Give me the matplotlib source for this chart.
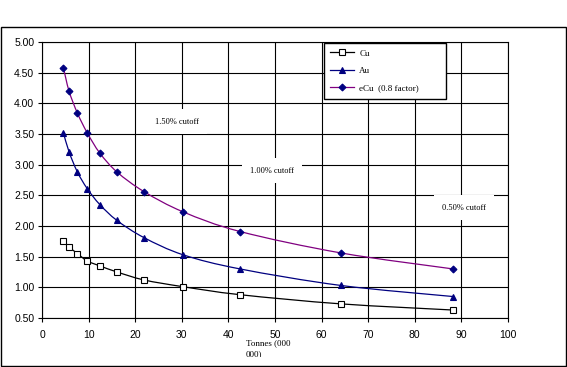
import numpy as np
import matplotlib
matplotlib.use('Agg')
import matplotlib.pyplot as plt
from matplotlib.path import Path
from matplotlib.patches import PathPatch, Rectangle
from matplotlib.lines import Line2D
from matplotlib.transforms import Bbox, TransformedBbox

# tonnes (000 000) and grades
tonnes = [4.6, 5.8, 7.6, 9.7, 12.4, 16.1, 21.9, 30.3, 42.5, 64.2, 88.2]
cu = [1.76, 1.66, 1.55, 1.43, 1.35, 1.25, 1.12, 1.01, 0.88, 0.73, 0.63]
au = [3.52, 3.21, 2.88, 2.61, 2.35, 2.09, 1.81, 1.53, 1.30, 1.03, 0.85]
ecu = [4.58, 4.20, 3.84, 3.52, 3.19, 2.88, 2.56, 2.23, 1.91, 1.56, 1.30]

cutoff_labels = ['1.50% cutoff', '1.00% cutoff', '0.50% cutoff']
cutoff_pos = [(29.0, 3.70), (49.4, 2.90), (90.6, 2.30)]

xticks = list(range(0, 101, 10))
yticks = [0.5, 1.0, 1.5, 2.0, 2.5, 3.0, 3.5, 4.0, 4.5, 5.0]

W, H = 567, 367
fig = plt.figure(figsize=(W / 100, H / 100), dpi=100)
ax = fig.add_axes([42 / W, 1 - 318 / H, (508 - 42) / W, (318 - 42) / H])


def smooth_path(x, y):
    # Excel-style smoothed line: cubic bezier segments, catmull-rom control points
    pts = np.column_stack([x, y])
    verts = [pts[0]]
    codes = [Path.MOVETO]
    n = len(pts)
    for i in range(n - 1):
        p0 = pts[i - 1] if i > 0 else pts[i]
        p1 = pts[i]
        p2 = pts[i + 1]
        p3 = pts[i + 2] if i + 2 < n else pts[i + 1]
        c1 = p1 + (p2 - p0) / 6.0
        c2 = p2 - (p3 - p1) / 6.0
        verts += [c1, c2, p2]
        codes += [Path.CURVE4] * 3
    return Path(verts, codes)


series = [
    (cu, 'black', 's', 'white', 'black', 5, 'Cu'),
    (au, '#000080', '^', '#000080', '#000080', 5, 'Au'),
    (ecu, '#800080', 'D', '#000080', '#000080', 3.5, 'eCu  (0.8 factor)'),
]
handles = []
for vals, col, mk, mfc, mec, ms, lab in series:
    ax.add_patch(PathPatch(smooth_path(tonnes, vals), fill=False, edgecolor=col,
                           lw=0.9, zorder=3))
    ax.plot(tonnes, vals, ls='none', marker=mk, ms=ms, mfc=mfc, mec=mec, mew=0.8,
            zorder=4)
    handles.append(Line2D([], [], color=col, lw=0.9, marker=mk, ms=ms, mfc=mfc,
                          mec=mec, mew=0.8))

ax.set_xlim(0, 100)
ax.set_ylim(0.5, 5.0)
ax.set_xticks(xticks)
ax.set_yticks(yticks)
ax.set_yticklabels([f'{v:.2f}' for v in yticks])
ax.grid(True, color='black', lw=0.8)
ax.set_axisbelow(True)
for s in ax.spines.values():
    s.set_color('black')
    s.set_linewidth(0.8)
ax.tick_params(direction='out', length=3, width=0.8, colors='black')
ax.tick_params(axis='y', pad=2.5)
ax.tick_params(axis='x', pad=6)
for lbl in ax.get_xticklabels() + ax.get_yticklabels():
    lbl.set_fontfamily('Liberation Sans')
    lbl.set_fontsize(7.5)

for txt, (x, y) in zip(cutoff_labels, cutoff_pos):
    ax.text(x, y, txt, family='Liberation Serif', fontsize=6, ha='center', va='center',
            bbox=dict(boxstyle='square,pad=1.0', fc='white', ec='none'), zorder=2)

leg = ax.legend(handles, [s[6] for s in series], loc='upper left',
                bbox_to_anchor=(324 / W, 1 - 100 / H, 122 / W, 57 / H),
                bbox_transform=fig.transFigure, mode='expand', fancybox=False,
                edgecolor='black', framealpha=1, prop={'family': 'Liberation Serif', 'size': 6.5},
                labelspacing=1.0, borderpad=0.7, handlelength=2.6, handletextpad=0.6,
                borderaxespad=0)
leg.get_frame().set_linewidth(1.0)
leg.set_zorder(5)

# x axis title, cut off by the chart frame
t = fig.text(246 / W, 1 - 339 / H, 'Tonnes (000\n000)', family='Liberation Serif',
             fontsize=6.5, ha='left', va='top', linespacing=1.45)
t.set_clip_box(TransformedBbox(Bbox([[0, (H - 357) / H], [1, 1]]), fig.transFigure))
t.set_clip_on(True)

# outer chart frame
fig.patches.append(Rectangle((1 / W, 1 - 366 / H), (566 - 1) / W, (366 - 27) / H,
                             transform=fig.transFigure, fill=False, ec='black', lw=1.0))

fig.savefig('out.png', dpi=100)
